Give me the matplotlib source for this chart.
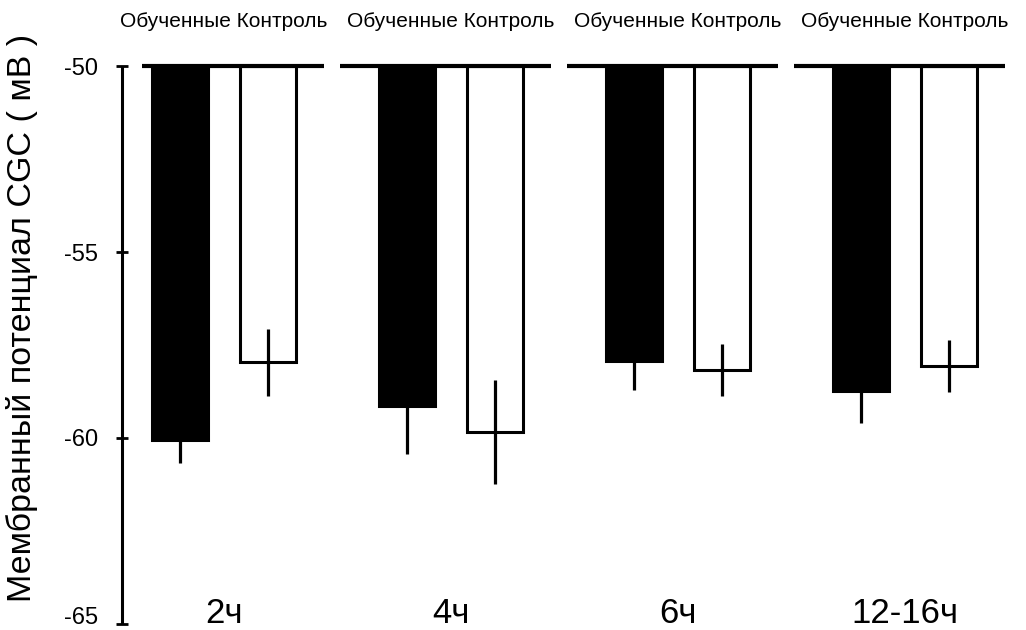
import matplotlib.pyplot as plt
import numpy as np

plt.rcParams['font.family'] = ['Liberation Sans', 'DejaVu Sans']

# Membrane potential of CGC, mean and SEM per time point
groups = ['2ч', '4ч', '6ч', '12-16ч']
trained = [-60.05, -59.14, -57.93, -58.74]
trained_err = [0.62, 1.30, 0.78, 0.86]
control = [-57.96, -59.84, -58.17, -58.06]
control_err = [0.90, 1.40, 0.70, 0.70]
series_names = ['Обученные', 'Контроль']
baseline = -50

fig = plt.figure(figsize=(10.26, 6.3), dpi=100)
ax = fig.add_axes([122 / 1026, 6 / 630, 898 / 1026, 558 / 630])

x = np.arange(len(groups))
offset = 0.194
width = 0.247

tr = np.array(trained)
ct = np.array(control)

ax.bar(x - offset, tr - baseline, width, bottom=baseline,
       color='black', edgecolor='black', linewidth=2.2, zorder=2)
ax.bar(x + offset, ct - baseline, width, bottom=baseline,
       color='white', edgecolor='black', linewidth=2.2, zorder=2)
ax.errorbar(x - offset, tr, yerr=trained_err, fmt='none',
            ecolor='black', elinewidth=2.3, capsize=0, zorder=3)
ax.errorbar(x + offset, ct, yerr=control_err, fmt='none',
            ecolor='black', elinewidth=2.3, capsize=0, zorder=3)

# broken zero line at -50 mV, one piece per group
for c in x:
    left = max(c - 0.49, -0.36)
    ax.plot([left, c + 0.44], [baseline, baseline], color='black',
            linewidth=3, solid_capstyle='butt', zorder=4, clip_on=False)

# group headers and time labels
for c, g in zip(x, groups):
    ax.text(c, -48.8, series_names[0] + ' ' + series_names[1],
            ha='center', va='center', fontsize=15, clip_on=False)
    ax.text(c, -64.97, g, ha='center', va='baseline', fontsize=25)

ax.set_xlim(-0.449, 3.507)
ax.set_ylim(-65, -50)
ax.set_yticks([-65, -60, -55, -50])
ax.set_yticklabels(['-65', '-60', '-55', '-50'], fontsize=17)
ax.get_yticklabels()[0].set_va('baseline')
ax.tick_params(axis='y', direction='inout', length=9, width=2, pad=13)
ax.set_xticks([])

for s in ['top', 'right', 'bottom']:
    ax.spines[s].set_visible(False)
ax.spines['left'].set_linewidth(2.2)
ax.spines['left'].set_capstyle('butt')

ax.set_ylabel('Мембранный потенциал CGC ( мВ )', fontsize=24.5)
ax.yaxis.set_label_coords(-0.094, 0.548)

fig.savefig('out.png', dpi=100)
